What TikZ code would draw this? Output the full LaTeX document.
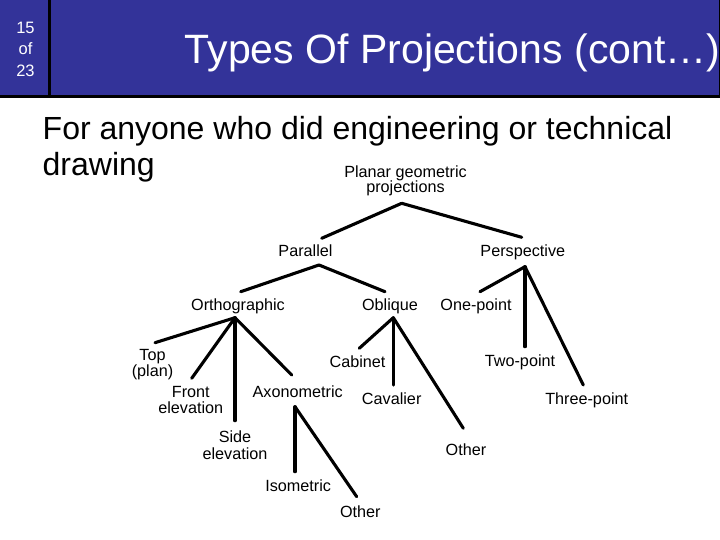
\documentclass[tikz,border=0pt]{standalone}
\usepackage{fontspec}
\setmainfont{Liberation Sans}
\definecolor{slideblue}{RGB}{51,51,153}
\newcommand{\twolines}[3][15.7pt]{\vtop{\baselineskip=#1\lineskiplimit=-20pt\halign{\hfil##\hfil\cr #2\cr #3\cr}}}
\newcommand{\threelines}[4][21.7pt]{\vtop{\baselineskip=#1\lineskiplimit=-20pt\halign{\hfil##\hfil\cr #2\cr #3\cr #4\cr}}}
\newcommand{\leftlines}[3][36pt]{\vtop{\baselineskip=#1\lineskiplimit=-20pt\halign{##\hfil\cr #2\cr #3\cr}}}
\begin{document}
\begin{tikzpicture}[x=1pt,y=-1pt,
  lbl/.style={inner sep=0pt, anchor=base, font=\fontsize{16.2}{15.7}\selectfont},
  edge/.style={line width=3.1pt, line cap=round}]
\useasboundingbox (0,0) rectangle (720,540);
\fill[white] (0,0) rectangle (720,540);
% header
\fill[black] (0,0) rectangle (720,98.5);
\fill[slideblue] (0,0) rectangle (47.5,95.5);
\fill[slideblue] (51,0) rectangle (718.5,95.5);
\node[inner sep=0pt, anchor=base, text=white, font=\fontsize{16.5}{21.7}\selectfont] (pg) at (25.5,33.3) {\threelines{15}{of}{23}};
\node[inner sep=0pt, anchor=base, text=white, font=\fontsize{41}{41}\selectfont] (title) at (452.5,63.3) {Types Of Projections (cont…)};
% body text
\node[inner sep=0pt, anchor=base west, font=\fontsize{32}{36}\selectfont] (body) at (42.5,139.8) {\leftlines{For anyone who did engineering or technical}{drawing}};
% tree labels
\node[lbl] (planar) at (405.5,177.7) {\twolines[15pt]{Planar geometric}{projections}};
\node[lbl] (parallel) at (305.5,256.7) {Parallel};
\node[lbl] (persp) at (522.8,256.7) {Perspective};
\node[lbl] (ortho) at (238,310) {Orthographic};
\node[lbl] (oblique) at (390,310) {Oblique};
\node[lbl] (onept) at (476,310) {One-point};
\node[lbl] (top) at (152.5,360.7) {\twolines{Top}{(plan)}};
\node[lbl] (cabinet) at (357.5,367) {Cabinet};
\node[lbl] (twopt) at (520,366.7) {Two-point};
\node[lbl] (front) at (190.8,397.7) {\twolines{Front}{elevation}};
\node[lbl] (axon) at (297.7,397.7) {Axonometric};
\node[lbl] (cavalier) at (391.7,404) {Cavalier};
\node[lbl] (threept) at (586.7,404) {Three-point};
\node[lbl] (side) at (235,442.7) {\twolines[16.3pt]{Side}{elevation}};
\node[lbl] (otherR) at (466,455) {Other};
\node[lbl] (iso) at (298.2,491.7) {Isometric};
\node[lbl] (otherB) at (360.3,517.3) {Other};
% connectors
\draw[edge] ([shift={(-3.8,25.6)}]planar.base) -- ([shift={(16.2,-18.4)}]parallel.base);
\draw[edge] ([shift={(-3.8,25.6)}]planar.base) -- ([shift={(-1.1,-19.4)}]persp.base);
\draw[edge] ([shift={(13.5,8.3)}]parallel.base) -- ([shift={(2.7,-18.3)}]ortho.base);
\draw[edge] ([shift={(13.5,8.3)}]parallel.base) -- ([shift={(-5,-18.3)}]oblique.base);
\draw[edge] ([shift={(-3,7.7)}]ortho.base) -- ([shift={(2.5,-18)}]top.base);
\draw[edge] ([shift={(-3,7.7)}]ortho.base) -- ([shift={(0.9,-19.4)}]front.base);
\draw[edge] ([shift={(-3,7.7)}]ortho.base) -- ([shift={(0,-22)}]side.base);
\draw[edge] ([shift={(-3,7.7)}]ortho.base) -- ([shift={(-6,-22.7)}]axon.base);
\draw[edge] ([shift={(3.3,7.7)}]oblique.base) -- ([shift={(1.8,-18.7)}]cabinet.base);
\draw[edge] ([shift={(3.3,7.7)}]oblique.base) -- ([shift={(1.6,-19)}]cavalier.base);
\draw[edge] ([shift={(3.3,7.7)}]oblique.base) -- ([shift={(-2.7,-26.7)}]otherR.base);
\draw[edge] ([shift={(2.2,10)}]persp.base) -- ([shift={(4,-18.3)}]onept.base);
\draw[edge] ([shift={(2.2,10)}]persp.base) -- ([shift={(5,-20)}]twopt.base);
\draw[edge] ([shift={(2.2,10)}]persp.base) -- ([shift={(-3.4,-19)}]threept.base);
\draw[edge] ([shift={(-2.7,9)}]axon.base) -- ([shift={(-3.2,-20)}]iso.base);
\draw[edge] ([shift={(-2.7,9)}]axon.base) -- ([shift={(-3.6,-20.6)}]otherB.base);
\end{tikzpicture}
\end{document}
